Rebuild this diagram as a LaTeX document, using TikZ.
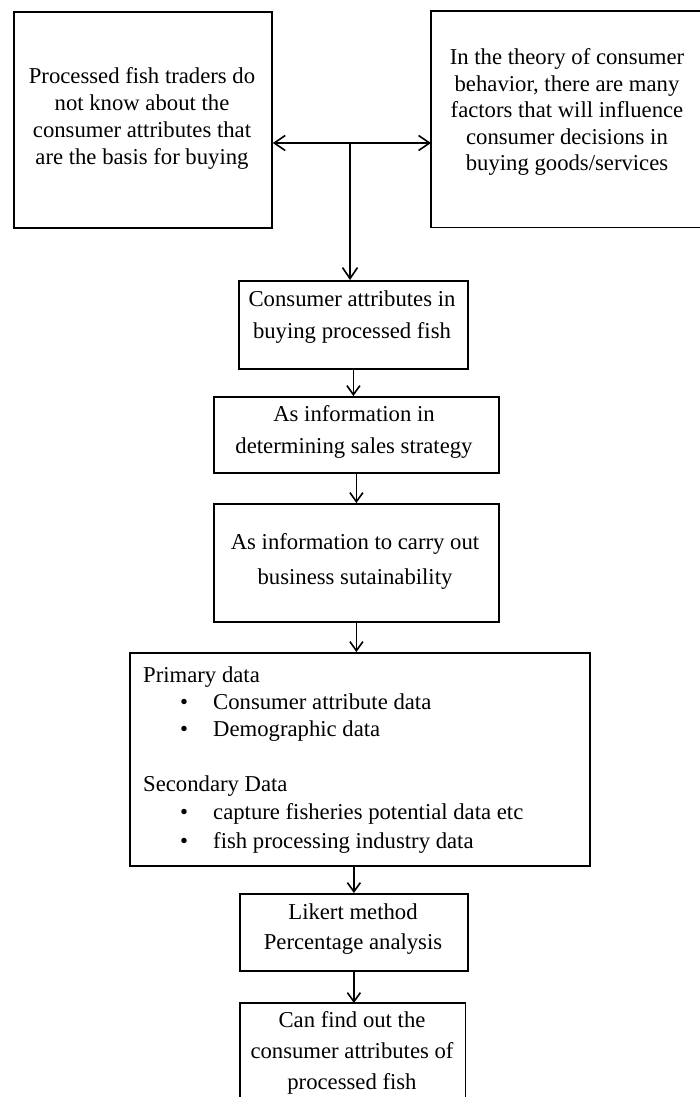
\documentclass[tikz,border=0pt]{standalone}
\usepackage{fontspec}
\setmainfont{Liberation Serif}
\usetikzlibrary{arrows.meta,calc}
\begin{document}
\begin{tikzpicture}[x=1pt,y=-1pt,
  boxline/.style={line width=1.8pt},
  box/.style={boxline,draw,rectangle,inner sep=0pt,anchor=north west},
  openbox/.style={rectangle,inner sep=0pt,anchor=north west},
  txt/.style={align=center,inner sep=0pt,font=\fontsize{22.7}{#1}\selectfont},
  txt/.default=27,
  ln/.style={anchor=base west,inner sep=0pt,font=\fontsize{22.7}{27}\selectfont},
  bul/.style={anchor=base,inner sep=0pt,font=\fontsize{22.7}{27}\selectfont},
  arr/.style={line width=1.6pt,-{Straight Barb[length=9pt,width=13pt,line width=1.6pt]}},
  bigarr/.style={line width=1.6pt,-{Straight Barb[length=11pt,width=15pt,line width=1.6pt]}}
]
\useasboundingbox[fill=white] (0,0) rectangle (700,1097);

% top boxes
\node[box,minimum width=258pt,minimum height=216pt] (L) at (13,11) {};
\node[txt] (Lt) at (142,118) {Processed fish traders do\\not know about the\\consumer attributes that\\are the basis for buying};

\node[openbox,minimum width=290pt,minimum height=216pt] (R) at (431,11) {};
\draw[boxline] (R.north east) -- (R.north west) -- (R.south west) -- (R.south east);
\node[txt=26.5] (Rt) at (567,112) {In the theory of consumer\\behavior, there are many\\factors that will influence\\consumer decisions in\\buying goods/services};

\coordinate (J) at (350,143);
\draw[bigarr] (J) -- (J -| L.east);
\draw[bigarr] (J) -- (J -| R.west);

% chain
\node[box,minimum width=229pt,minimum height=88pt] (C1) at (238,280) {};
\node[txt=32] (C1t) at (352,317) {Consumer attributes in\\buying processed fish};
\draw[bigarr] (J) -- (J |- C1.north);

\node[box,minimum width=285pt,minimum height=76pt] (C2) at (213,396) {};
\node[txt=32] (C2t) at (354,432) {As information in\\determining sales strategy};
\draw[arr] (C1.south) -- (C1.south |- C2.north);

\node[box,minimum width=285pt,minimum height=118pt] (C3) at (213,503) {};
\node[txt=35] (C3t) at (355,561) {As information to carry out\\business sutainability};
\draw[arr] (C2.south) -- (C2.south |- C3.north);

% data box
\node[box,minimum width=460pt,minimum height=213pt] (D) at (129,652) {};
\draw[arr] (C3.south) -- (C3.south |- D.north);
\node[ln] (p0) at (143,682) {Primary data};
\node[bul] (b1) at (184,709) {\textbullet};
\node[ln] (p1) at (213,709) {Consumer attribute data};
\node[bul] (b2) at (184,736) {\textbullet};
\node[ln] (p2) at (213,736) {Demographic data};
\node[ln] (s0) at (143,791) {Secondary Data};
\node[bul] (b3) at (184,819) {\textbullet};
\node[ln] (s1) at (213,819) {capture fisheries potential data etc};
\node[bul] (b4) at (184,848) {\textbullet};
\node[ln] (s2) at (213,848) {fish processing industry data};

% likert
\node[box,minimum width=228pt,minimum height=77pt] (K) at (239,893) {};
\node[txt=30] (Kt) at (353,929) {Likert method\\Percentage analysis};
\draw[arr] (D.south -| K.center) -- (K.north);

% bottom (cut off)
\node[openbox,minimum width=225pt,minimum height=110pt] (B) at (240,1003) {};
\draw[boxline] (B.south west) -- (B.north west) -- (B.north east) -- (B.south east);
\node[txt=31] (Bt) at (352,1053) {Can find out the\\consumer attributes of\\processed fish};
\draw[arr] (K.south) -- (K.south |- B.north);
\end{tikzpicture}
\end{document}
